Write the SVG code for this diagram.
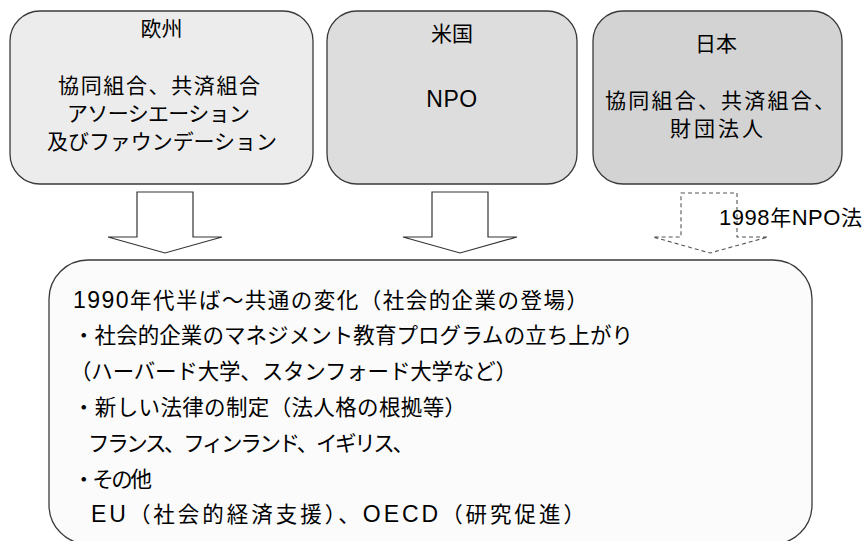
<svg xmlns="http://www.w3.org/2000/svg" width="867" height="541" viewBox="0 0 867 541">
<style>
  .box { stroke: #3a3a3a; stroke-width: 1.3; }
  .t { font-family: "Liberation Sans", "Noto Sans CJK JP", sans-serif; font-size: 21px; fill: #000; }
  .b { font-size: 21.5px; }
  .l { font-size: 23px; }
  .c { text-anchor: middle; }
  .arrow { fill: #ffffff; stroke: #333333; stroke-width: 1.2; stroke-linejoin: miter; }
  .dash { fill: #ffffff; stroke: #555555; stroke-width: 1.1; stroke-dasharray: 4 3; }
</style>
<rect x="0" y="0" width="867" height="541" fill="#ffffff"/>

<g id="node-europe">
  <rect class="box" x="10" y="11" width="303" height="173" rx="30" ry="30" fill="#ececec"/>
  <text class="t c" x="161.5" y="36">欧州</text>
  <text class="t c" x="159" y="93" textLength="202">協同組合、共済組合</text>
  <text class="t c" x="158.5" y="121" font-size="20" textLength="183">アソーシエーション</text>
  <text class="t c" x="162" y="149" font-size="20" textLength="230">及びファウンデーション</text>
</g>

<g id="node-usa">
  <rect class="box" x="327" y="11" width="250" height="173" rx="30" ry="30" fill="#dddddd"/>
  <text class="t c" x="452" y="41">米国</text>
  <text class="t c l" x="452" y="107" letter-spacing="0.5">NPO</text>
</g>

<g id="node-japan">
  <rect class="box" x="593" y="11" width="249" height="173" rx="30" ry="30" fill="#d3d3d3"/>
  <text class="t c" x="716" y="51">日本</text>
  <text class="t c" x="720" y="108" textLength="230">協同組合、共済組合、</text>
  <text class="t c" x="716.5" y="136" textLength="93">財団法人</text>
</g>

<g id="connectors">
  <polygon class="arrow" points="137,192 193,192 193,237 222,237 165,253 108,237 137,237"/>
  <polygon class="arrow" points="432,192 488,192 488,237 517,237 460,253 403,237 432,237"/>
  <polygon class="dash" points="681,193 737,193 737,237 768,237 710,253 653,237 681,237"/>
  <text class="t" x="719" y="225" font-size="20" textLength="143"><tspan font-size="22">1998</tspan>年<tspan font-size="22">NPO</tspan>法</text>
</g>

<g id="node-summary">
  <rect class="box" x="49" y="260" width="763" height="284" rx="39" ry="39" fill="#fbfbfb"/>
  <text class="t b" x="73" y="307.5" textLength="515"><tspan class="l">1990</tspan>年代半ば～共通の変化（社会的企業の登場）</text>
  <text class="t b" x="73" y="343.3" textLength="560">・社会的企業のマネジメント教育プログラムの立ち上がり</text>
  <text class="t b" x="70" y="379.1" textLength="447">（ハーバード大学、スタンフォード大学など）</text>
  <text class="t b" x="73" y="414.9" textLength="393">・新しい法律の制定（法人格の根拠等）</text>
  <text class="t b" x="88" y="450.7" textLength="326">フランス、フィンランド、イギリス、</text>
  <text class="t b" x="73" y="486.5" textLength="79">・その他</text>
  <text class="t b" x="91" y="522.3" textLength="494"><tspan class="l">EU</tspan>（社会的経済支援）、<tspan class="l">OECD</tspan>（研究促進）</text>
</g>
</svg>
